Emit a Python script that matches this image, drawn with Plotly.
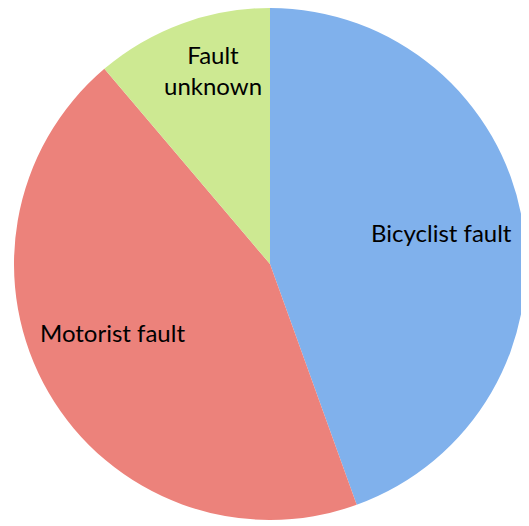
import plotly.graph_objects as go

labels = ["Bicyclist fault", "Motorist fault", "Fault unknown"]
display_labels = ["Bicyclist fault", "Motorist fault", "Fault<br>unknown"]
values = [44.5, 44.3, 11.2]
colors = ["#80B1EC", "#EC827B", "#CDE992"]

W, H = 529, 526
OFF = 8  # page body margin
R = 256
cx, cy = 270 - OFF, R  # pixel centre in figure coords (top of pie at figure top)

fig = go.Figure(go.Pie(
    labels=labels,
    values=values,
    sort=False,
    direction="clockwise",
    rotation=0,
    marker=dict(colors=colors, line=dict(width=0)),
    textinfo="none",
    hoverinfo="label+percent",
    showlegend=False,
    domain=dict(x=[(cx - R) / W, (cx + R) / W],
                y=[max(0, (H - cy - R) / H), min(1, (H - cy + R) / H)]),
))

label_pos = [(441, 233), (112, 332), (213, 70)]
for txt, (px, py) in zip(display_labels, label_pos):
    fig.add_annotation(x=(px - OFF) / W, y=1 - (py - OFF) / H, xref="paper", yref="paper",
                       xanchor="center", yanchor="middle",
                       text=txt, showarrow=False,
                       font=dict(family="Lato, Open Sans, sans-serif", size=24, color="#000000"))

fig.update_layout(width=W, height=H, margin=dict(l=0, r=0, t=0, b=0),
                  paper_bgcolor="white", plot_bgcolor="white")
fig.write_html("out.html")
